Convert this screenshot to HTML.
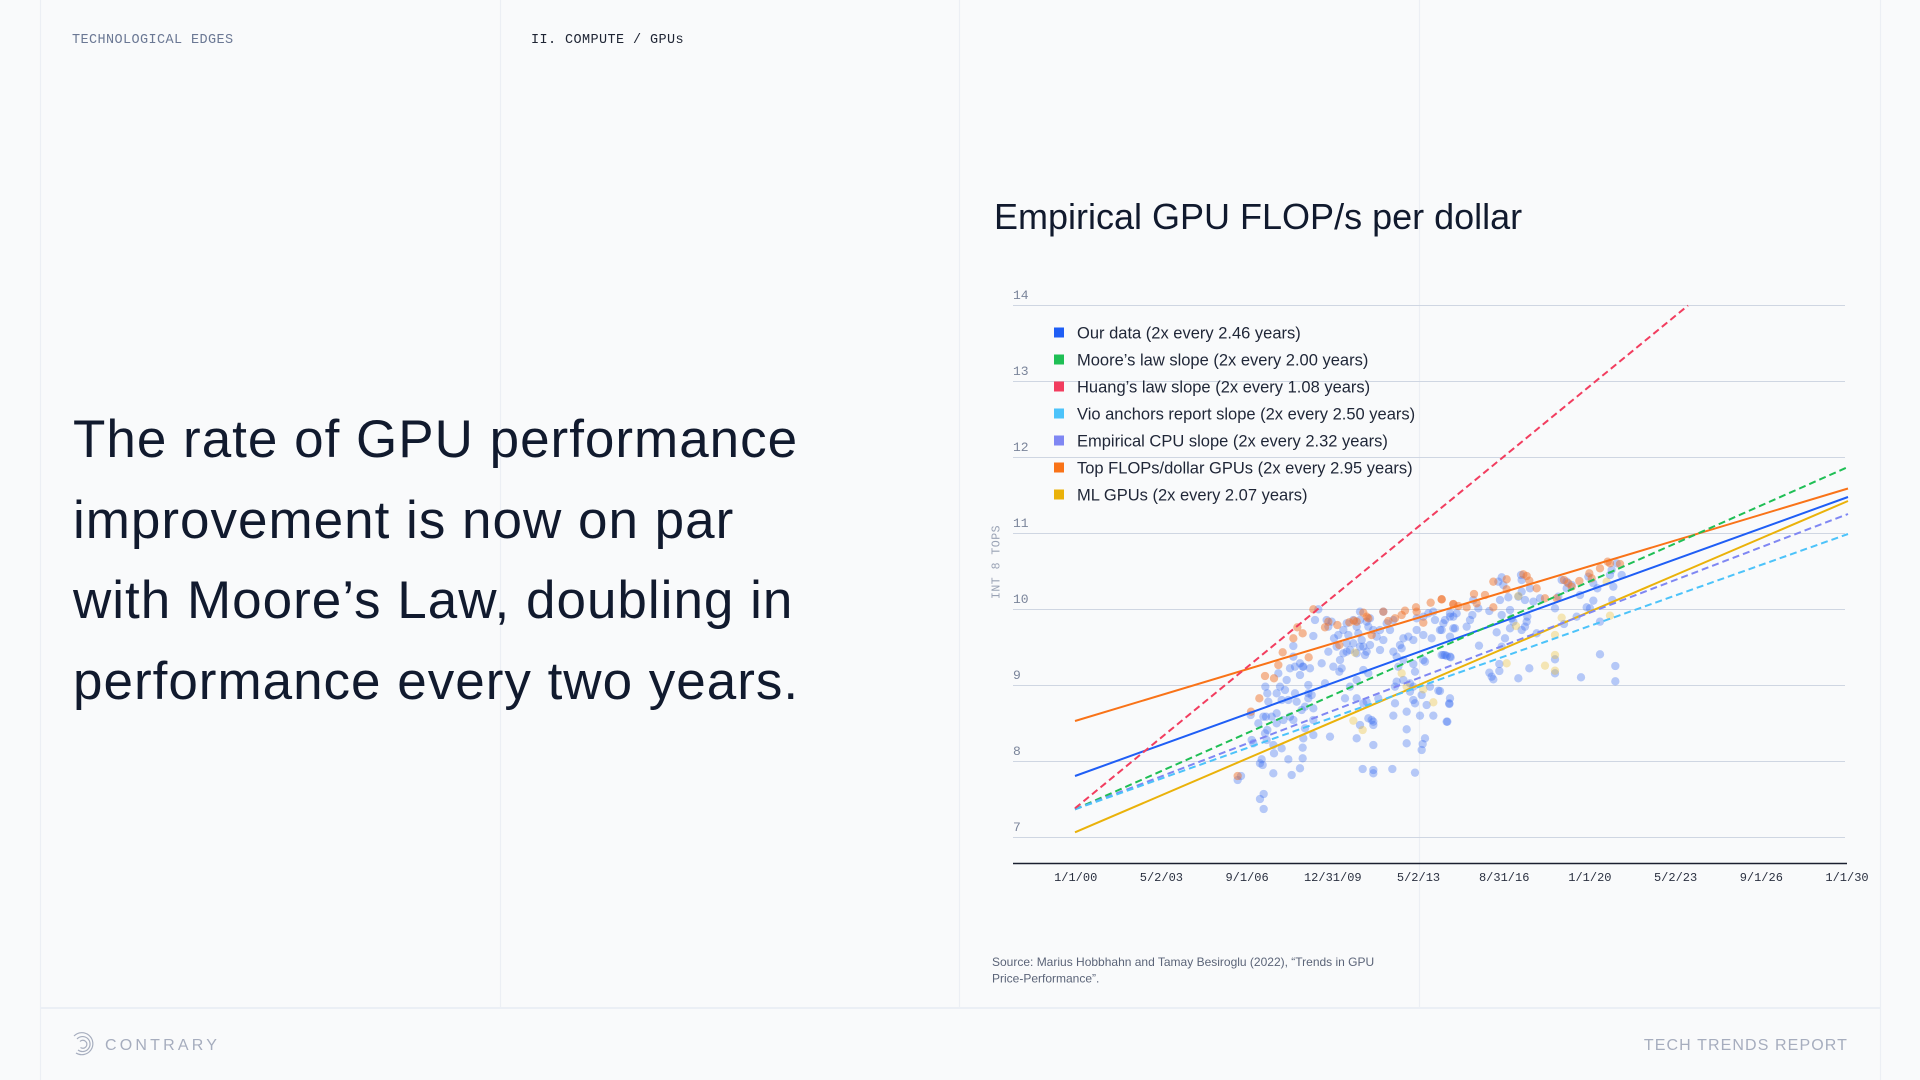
<!DOCTYPE html>
<html>
<head>
<meta charset="utf-8">
<style>
  html, body { margin: 0; padding: 0; }
  body { width: 1920px; height: 1080px; background: #f9fafb; overflow: hidden; position: relative; }
  svg { position: absolute; left: 0; top: 0; }
  .mono { font-family: "Liberation Mono", monospace; }
  .sans { font-family: "Liberation Sans", sans-serif; }
  circle { r: 12.5px; }
</style>
</head>
<body>
<svg width="1920" height="1080" viewBox="0 0 1920 1080" xmlns="http://www.w3.org/2000/svg">
  <!-- structural lines -->
  <g stroke="#eceff4" stroke-width="1.2">
    <line x1="40.5" y1="0" x2="40.5" y2="1080"/>
    <line x1="500.5" y1="0" x2="500.5" y2="1008"/>
    <line x1="959.5" y1="0" x2="959.5" y2="1008"/>
    <line x1="1419.5" y1="0" x2="1419.5" y2="1008"/>
    <line x1="1880.5" y1="0" x2="1880.5" y2="1080"/>
  </g>
  <line x1="40" y1="1008" x2="1881" y2="1008" stroke="#ebeff5" stroke-width="2"/>

  <!-- header labels -->
  <text x="72" y="43" class="mono" font-size="13.5" letter-spacing="0.4" fill="#6b7894">TECHNOLOGICAL EDGES</text>
  <text x="531" y="43" class="mono" font-size="13.5" letter-spacing="0.4" fill="#1e2433">II. COMPUTE / GPUs</text>

  <!-- main statement -->
  <g class="sans" font-size="53" letter-spacing="1" fill="#111a2e">
    <text x="73" y="457">The rate of GPU performance</text>
    <text x="73" y="538">improvement is now on par</text>
    <text x="73" y="618">with Moore’s Law, doubling in</text>
    <text x="73" y="699">performance every two years.</text>
  </g>

  <!-- chart title -->
  <text x="994" y="229" class="sans" font-size="36" fill="#111a2e">Empirical GPU FLOP/s per dollar</text>

  <!-- gridlines -->
  <g stroke="#cfd6e2" stroke-width="1">
    <line x1="1013" y1="305.5" x2="1845" y2="305.5"/>
    <line x1="1013" y1="381.5" x2="1845" y2="381.5"/>
    <line x1="1013" y1="457.5" x2="1845" y2="457.5"/>
    <line x1="1013" y1="533.5" x2="1845" y2="533.5"/>
    <line x1="1013" y1="609.5" x2="1845" y2="609.5"/>
    <line x1="1013" y1="685.5" x2="1845" y2="685.5"/>
    <line x1="1013" y1="761.5" x2="1845" y2="761.5"/>
    <line x1="1013" y1="837.5" x2="1845" y2="837.5"/>
  </g>

  <!-- y ticks -->
  <g class="mono" font-size="13" fill="#7a849a">
    <text x="1013" y="299">14</text>
    <text x="1013" y="375">13</text>
    <text x="1013" y="451">12</text>
    <text x="1013" y="527">11</text>
    <text x="1013" y="603">10</text>
    <text x="1013" y="679">9</text>
    <text x="1013" y="755">8</text>
    <text x="1013" y="831">7</text>
  </g>

  <!-- y axis title -->
  <text transform="translate(999.5 562) rotate(-90)" text-anchor="middle" class="mono" font-size="11.5" letter-spacing="0.5" fill="#9aa3b5">INT 8 TOPS</text>

  <!-- scatter: left region (zoom coords) -->
  <g transform="translate(980 520) scale(0.333333)">
    <g fill="rgba(60,110,240,0.36)">
      <circle cx="773" cy="780" r="12.5"/><circle cx="783" cy="768" r="12.5"/><circle cx="840" cy="837" r="12.5"/><circle cx="851" cy="822" r="12.5"/>
      <circle cx="851" cy="867" r="12.5"/><circle cx="840" cy="730" r="12.5"/><circle cx="848" cy="735" r="12.5"/><circle cx="845" cy="718" r="12.5"/>
      <circle cx="812" cy="585" r="12.5"/><circle cx="815" cy="660" r="12.5"/><circle cx="820" cy="670" r="12.5"/><circle cx="835" cy="610" r="12.5"/>
      <circle cx="850" cy="590" r="12.5"/><circle cx="858" cy="590" r="12.5"/><circle cx="856" cy="500" r="12.5"/><circle cx="862" cy="520" r="12.5"/>
      <circle cx="865" cy="545" r="12.5"/><circle cx="862" cy="630" r="12.5"/><circle cx="880" cy="675" r="12.5"/><circle cx="882" cy="700" r="12.5"/>
      <circle cx="880" cy="760" r="12.5"/><circle cx="905" cy="685" r="12.5"/><circle cx="925" cy="718" r="12.5"/><circle cx="935" cy="765" r="12.5"/>
      <circle cx="960" cy="745" r="12.5"/><circle cx="968" cy="715" r="12.5"/><circle cx="968" cy="683" r="12.5"/><circle cx="970" cy="655" r="12.5"/>
      <circle cx="975" cy="625" r="12.5"/><circle cx="1000" cy="645" r="12.5"/><circle cx="1000" cy="600" r="12.5"/><circle cx="1000" cy="565" r="12.5"/>
      <circle cx="985" cy="535" r="12.5"/><circle cx="995" cy="525" r="12.5"/><circle cx="985" cy="495" r="12.5"/><circle cx="968" cy="440" r="12.5"/>
      <circle cx="960" cy="465" r="12.5"/><circle cx="945" cy="440" r="12.5"/><circle cx="940" cy="410" r="12.5"/><circle cx="940" cy="378" r="12.5"/>
      <circle cx="1000" cy="348" r="12.5"/><circle cx="1005" cy="300" r="12.5"/><circle cx="1015" cy="268" r="12.5"/><circle cx="920" cy="480" r="12.5"/>
      <circle cx="915" cy="510" r="12.5"/><circle cx="900" cy="500" r="12.5"/><circle cx="895" cy="460" r="12.5"/><circle cx="890" cy="520" r="12.5"/>
      <circle cx="905" cy="540" r="12.5"/><circle cx="925" cy="540" r="12.5"/><circle cx="945" cy="520" r="12.5"/><circle cx="950" cy="545" r="12.5"/>
      <circle cx="930" cy="590" r="12.5"/><circle cx="910" cy="600" r="12.5"/><circle cx="890" cy="610" r="12.5"/><circle cx="860" cy="660" r="12.5"/>
      <circle cx="855" cy="640" r="12.5"/><circle cx="875" cy="590" r="12.5"/><circle cx="890" cy="580" r="12.5"/><circle cx="940" cy="600" r="12.5"/>
      <circle cx="965" cy="570" r="12.5"/><circle cx="975" cy="560" r="12.5"/><circle cx="985" cy="520" r="12.5"/><circle cx="960" cy="430" r="12.5"/>
      <circle cx="970" cy="440" r="12.5"/><circle cx="990" cy="445" r="12.5"/><circle cx="1045" cy="395" r="12.5"/><circle cx="1060" cy="440" r="12.5"/>
      <circle cx="1062" cy="355" r="12.5"/><circle cx="1075" cy="345" r="12.5"/><circle cx="1080" cy="420" r="12.5"/><circle cx="1085" cy="445" r="12.5"/>
      <circle cx="1078" cy="455" r="12.5"/><circle cx="1090" cy="400" r="12.5"/><circle cx="1100" cy="370" r="12.5"/><circle cx="1105" cy="345" r="12.5"/>
      <circle cx="1110" cy="390" r="12.5"/><circle cx="1120" cy="370" r="12.5"/><circle cx="1130" cy="400" r="12.5"/><circle cx="1140" cy="380" r="12.5"/>
      <circle cx="1150" cy="380" r="12.5"/><circle cx="1155" cy="405" r="12.5"/><circle cx="1160" cy="395" r="12.5"/><circle cx="1170" cy="375" r="12.5"/>
      <circle cx="1165" cy="460" r="12.5"/><circle cx="1150" cy="450" r="12.5"/><circle cx="1130" cy="480" r="12.5"/><circle cx="1110" cy="500" r="12.5"/>
      <circle cx="1095" cy="535" r="12.5"/><circle cx="1130" cy="535" r="12.5"/><circle cx="1150" cy="550" r="12.5"/><circle cx="1140" cy="615" r="12.5"/>
      <circle cx="1130" cy="655" r="12.5"/><circle cx="1165" cy="595" r="12.5"/><circle cx="1180" cy="605" r="12.5"/><circle cx="1180" cy="615" r="12.5"/>
      <circle cx="1180" cy="675" r="12.5"/><circle cx="1148" cy="747" r="12.5"/><circle cx="1180" cy="750" r="12.5"/><circle cx="1180" cy="760" r="12.5"/>
      <circle cx="1237" cy="747" r="12.5"/><circle cx="1305" cy="758" r="12.5"/><circle cx="1280" cy="670" r="12.5"/><circle cx="1280" cy="628" r="12.5"/>
      <circle cx="1325" cy="690" r="12.5"/><circle cx="1328" cy="672" r="12.5"/><circle cx="1335" cy="655" r="12.5"/><circle cx="1240" cy="587" r="12.5"/>
      <circle cx="1245" cy="550" r="12.5"/><circle cx="1280" cy="575" r="12.5"/><circle cx="1305" cy="550" r="12.5"/><circle cx="1320" cy="587" r="12.5"/>
      <circle cx="1360" cy="587" r="12.5"/><circle cx="1400" cy="605" r="12.5"/><circle cx="1375" cy="512" r="12.5"/><circle cx="1340" cy="555" r="12.5"/>
      <circle cx="1300" cy="540" r="12.5"/><circle cx="1290" cy="515" r="12.5"/><circle cx="1250" cy="485" r="12.5"/><circle cx="1240" cy="395" r="12.5"/>
      <circle cx="1255" cy="440" r="12.5"/><circle cx="1265" cy="385" r="12.5"/><circle cx="1270" cy="355" r="12.5"/><circle cx="1285" cy="350" r="12.5"/>
      <circle cx="1300" cy="360" r="12.5"/><circle cx="1310" cy="330" r="12.5"/><circle cx="1310" cy="295" r="12.5"/><circle cx="1330" cy="345" r="12.5"/>
      <circle cx="1355" cy="355" r="12.5"/><circle cx="1380" cy="330" r="12.5"/><circle cx="1365" cy="300" r="12.5"/><circle cx="1360" cy="275" r="12.5"/>
      <circle cx="1345" cy="280" r="12.5"/><circle cx="1330" cy="290" r="12.5"/><circle cx="1390" cy="310" r="12.5"/><circle cx="1410" cy="290" r="12.5"/>
      <circle cx="1420" cy="325" r="12.5"/><circle cx="1430" cy="280" r="12.5"/><circle cx="1200" cy="330" r="12.5"/><circle cx="1210" cy="360" r="12.5"/>
      <circle cx="1220" cy="310" r="12.5"/><circle cx="1230" cy="330" r="12.5"/><circle cx="1240" cy="300" r="12.5"/><circle cx="1190" cy="350" r="12.5"/>
      <circle cx="1180" cy="330" r="12.5"/><circle cx="1165" cy="320" r="12.5"/><circle cx="1160" cy="305" r="12.5"/><circle cx="1140" cy="300" r="12.5"/>
      <circle cx="1130" cy="320" r="12.5"/><circle cx="1120" cy="300" r="12.5"/><circle cx="1100" cy="310" r="12.5"/><circle cx="1055" cy="305" r="12.5"/>
      <circle cx="1045" cy="320" r="12.5"/><circle cx="1040" cy="300" r="12.5"/><circle cx="1100" cy="395" r="12.5"/><circle cx="1050" cy="650" r="12.5"/>
      <circle cx="1035" cy="490" r="12.5"/><circle cx="1410" cy="535" r="12.5"/><circle cx="1408" cy="550" r="12.5"/><circle cx="1385" cy="405" r="12.5"/>
      <circle cx="1395" cy="405" r="12.5"/><circle cx="1410" cy="410" r="12.5"/><circle cx="1300" cy="432" r="12.5"/><circle cx="1305" cy="455" r="12.5"/>
      <circle cx="1330" cy="420" r="12.5"/><circle cx="1335" cy="425" r="12.5"/><circle cx="1250" cy="410" r="12.5"/><circle cx="1260" cy="375" r="12.5"/>
      <circle cx="1210" cy="275" r="12.5"/><circle cx="1140" cy="275" r="12.5"/><circle cx="1170" cy="295" r="12.5"/><circle cx="1135" cy="340" r="12.5"/>
      <circle cx="1145" cy="360" r="12.5"/><circle cx="1350" cy="500" r="12.5"/><circle cx="1325" cy="525" r="12.5"/><circle cx="1300" cy="500" r="12.5"/>
      <circle cx="1290" cy="490" r="12.5"/><circle cx="1270" cy="480" r="12.5"/><circle cx="1245" cy="500" r="12.5"/><circle cx="1195" cy="535" r="12.5"/>
      <circle cx="1175" cy="600" r="12.5"/><circle cx="1160" cy="545" r="12.5"/><circle cx="1070" cy="380" r="12.5"/><circle cx="1090" cy="330" r="12.5"/>
      <circle cx="1200" cy="390" r="12.5"/><circle cx="1270" cy="420" r="12.5"/><circle cx="930" cy="445" r="12.5"/><circle cx="1025" cy="430" r="12.5"/>
    </g>
    <g fill="rgba(240,115,45,0.5)">
      <circle cx="773" cy="768" r="12.5"/><circle cx="813" cy="575" r="12.5"/><circle cx="838" cy="535" r="12.5"/><circle cx="855" cy="468" r="12.5"/>
      <circle cx="882" cy="475" r="12.5"/><circle cx="895" cy="435" r="12.5"/><circle cx="908" cy="397" r="12.5"/><circle cx="986" cy="412" r="12.5"/>
      <circle cx="940" cy="355" r="12.5"/><circle cx="968" cy="340" r="12.5"/><circle cx="952" cy="322" r="12.5"/><circle cx="1000" cy="268" r="12.5"/>
      <circle cx="1035" cy="322" r="12.5"/><circle cx="1045" cy="305" r="12.5"/><circle cx="1072" cy="315" r="12.5"/><circle cx="1078" cy="375" r="12.5"/>
      <circle cx="1108" cy="307" r="12.5"/><circle cx="1122" cy="302" r="12.5"/><circle cx="1130" cy="305" r="12.5"/><circle cx="1150" cy="278" r="12.5"/>
      <circle cx="1160" cy="290" r="12.5"/><circle cx="1165" cy="295" r="12.5"/><circle cx="1175" cy="345" r="12.5"/><circle cx="1210" cy="275" r="12.5"/>
      <circle cx="1225" cy="303" r="12.5"/><circle cx="1245" cy="295" r="12.5"/><circle cx="1265" cy="285" r="12.5"/><circle cx="1275" cy="272" r="12.5"/>
      <circle cx="1308" cy="262" r="12.5"/><circle cx="1310" cy="275" r="12.5"/><circle cx="1330" cy="308" r="12.5"/><circle cx="1352" cy="248" r="12.5"/>
      <circle cx="1385" cy="238" r="12.5"/><circle cx="1420" cy="253" r="12.5"/><circle cx="1435" cy="258" r="12.5"/>
    </g>
    <g fill="rgba(235,190,50,0.35)">
      <circle cx="1125" cy="398" r="12.5"/><circle cx="1120" cy="602" r="12.5"/><circle cx="1148" cy="630" r="12.5"/><circle cx="1280" cy="500" r="12.5"/>
      <circle cx="1330" cy="508" r="12.5"/><circle cx="1360" cy="547" r="12.5"/><circle cx="1265" cy="460" r="12.5"/>
    </g>
  </g>

  <!-- scatter: right region -->
  <g transform="translate(1440 520) scale(0.333333)">
    <g fill="rgba(60,110,240,0.36)">
      <circle cx="0" cy="513" r="12.5"/><circle cx="28" cy="552" r="12.5"/><circle cx="22" cy="605" r="12.5"/><circle cx="10" cy="405" r="12.5"/>
      <circle cx="20" cy="408" r="12.5"/><circle cx="32" cy="412" r="12.5"/><circle cx="30" cy="350" r="12.5"/><circle cx="45" cy="325" r="12.5"/>
      <circle cx="40" cy="290" r="12.5"/><circle cx="15" cy="300" r="12.5"/><circle cx="30" cy="280" r="12.5"/><circle cx="5" cy="330" r="12.5"/>
      <circle cx="80" cy="320" r="12.5"/><circle cx="90" cy="300" r="12.5"/><circle cx="97" cy="285" r="12.5"/><circle cx="100" cy="240" r="12.5"/>
      <circle cx="115" cy="265" r="12.5"/><circle cx="117" cy="377" r="12.5"/><circle cx="148" cy="273" r="12.5"/><circle cx="148" cy="458" r="12.5"/>
      <circle cx="155" cy="470" r="12.5"/><circle cx="160" cy="478" r="12.5"/><circle cx="178" cy="453" r="12.5"/><circle cx="178" cy="432" r="12.5"/>
      <circle cx="170" cy="337" r="12.5"/><circle cx="185" cy="380" r="12.5"/><circle cx="195" cy="355" r="12.5"/><circle cx="185" cy="285" r="12.5"/>
      <circle cx="180" cy="240" r="12.5"/><circle cx="175" cy="185" r="12.5"/><circle cx="185" cy="172" r="12.5"/><circle cx="190" cy="195" r="12.5"/>
      <circle cx="205" cy="232" r="12.5"/><circle cx="210" cy="270" r="12.5"/><circle cx="215" cy="295" r="12.5"/><circle cx="210" cy="325" r="12.5"/>
      <circle cx="220" cy="305" r="12.5"/><circle cx="235" cy="230" r="12.5"/><circle cx="245" cy="215" r="12.5"/><circle cx="243" cy="165" r="12.5"/>
      <circle cx="245" cy="180" r="12.5"/><circle cx="255" cy="240" r="12.5"/><circle cx="262" cy="290" r="12.5"/><circle cx="260" cy="305" r="12.5"/>
      <circle cx="255" cy="320" r="12.5"/><circle cx="245" cy="330" r="12.5"/><circle cx="235" cy="475" r="12.5"/><circle cx="268" cy="445" r="12.5"/>
      <circle cx="270" cy="205" r="12.5"/><circle cx="280" cy="245" r="12.5"/><circle cx="290" cy="340" r="12.5"/><circle cx="300" cy="235" r="12.5"/>
      <circle cx="345" cy="265" r="12.5"/><circle cx="345" cy="418" r="12.5"/><circle cx="345" cy="460" r="12.5"/><circle cx="355" cy="230" r="12.5"/>
      <circle cx="365" cy="180" r="12.5"/><circle cx="372" cy="312" r="12.5"/><circle cx="380" cy="205" r="12.5"/><circle cx="380" cy="185" r="12.5"/>
      <circle cx="395" cy="195" r="12.5"/><circle cx="410" cy="290" r="12.5"/><circle cx="420" cy="225" r="12.5"/><circle cx="423" cy="472" r="12.5"/>
      <circle cx="440" cy="262" r="12.5"/><circle cx="445" cy="170" r="12.5"/><circle cx="460" cy="190" r="12.5"/><circle cx="460" cy="242" r="12.5"/>
      <circle cx="472" cy="205" r="12.5"/><circle cx="480" cy="305" r="12.5"/><circle cx="480" cy="403" r="12.5"/><circle cx="510" cy="165" r="12.5"/>
      <circle cx="515" cy="150" r="12.5"/><circle cx="517" cy="240" r="12.5"/><circle cx="520" cy="200" r="12.5"/><circle cx="526" cy="438" r="12.5"/>
      <circle cx="526" cy="484" r="12.5"/><circle cx="545" cy="165" r="12.5"/><circle cx="530" cy="130" r="12.5"/><circle cx="450" cy="265" r="12.5"/>
    </g>
    <g fill="rgba(240,115,45,0.5)">
      <circle cx="5" cy="238" r="12.5"/><circle cx="40" cy="252" r="12.5"/><circle cx="80" cy="262" r="12.5"/><circle cx="102" cy="222" r="12.5"/>
      <circle cx="110" cy="250" r="12.5"/><circle cx="135" cy="225" r="12.5"/><circle cx="160" cy="185" r="12.5"/><circle cx="160" cy="262" r="12.5"/>
      <circle cx="200" cy="178" r="12.5"/><circle cx="200" cy="208" r="12.5"/><circle cx="250" cy="163" r="12.5"/><circle cx="260" cy="168" r="12.5"/>
      <circle cx="268" cy="182" r="12.5"/><circle cx="290" cy="205" r="12.5"/><circle cx="315" cy="235" r="12.5"/><circle cx="350" cy="235" r="12.5"/>
      <circle cx="372" cy="180" r="12.5"/><circle cx="385" cy="190" r="12.5"/><circle cx="395" cy="200" r="12.5"/><circle cx="418" cy="183" r="12.5"/>
      <circle cx="448" cy="160" r="12.5"/><circle cx="455" cy="175" r="12.5"/><circle cx="480" cy="145" r="12.5"/><circle cx="503" cy="125" r="12.5"/>
      <circle cx="510" cy="130" r="12.5"/><circle cx="540" cy="132" r="12.5"/>
    </g>
    <g fill="rgba(235,190,50,0.35)">
      <circle cx="200" cy="430" r="12.5"/><circle cx="228" cy="318" r="12.5"/><circle cx="235" cy="228" r="12.5"/><circle cx="315" cy="437" r="12.5"/>
      <circle cx="345" cy="345" r="12.5"/><circle cx="345" cy="405" r="12.5"/><circle cx="345" cy="452" r="12.5"/><circle cx="365" cy="293" r="12.5"/>
      <circle cx="510" cy="287" r="12.5"/><circle cx="500" cy="185" r="12.5"/>
    </g>
  </g>

  <!-- trend lines -->
  <g fill="none" stroke-width="2" stroke-linecap="butt">
    <line x1="1075" y1="721" x2="1848" y2="488.5" stroke="#f97318"/>
    <line x1="1075" y1="776" x2="1848" y2="497" stroke="#1f5ef5"/>
    <line x1="1075" y1="832.3" x2="1848" y2="501" stroke="#eab20a"/>
    <line x1="1075" y1="809.3" x2="1848" y2="467" stroke="#1fbf55" stroke-dasharray="7 4"/>
    <line x1="1075" y1="809.3" x2="1848" y2="514" stroke="#7f87f3" stroke-dasharray="7 4"/>
    <line x1="1075" y1="809.3" x2="1848" y2="534" stroke="#4cc3fa" stroke-dasharray="7 4"/>
    <line x1="1075" y1="808.3" x2="1688" y2="305.5" stroke="#f23d5f" stroke-dasharray="7 4"/>
  </g>

  <!-- x axis -->
  <line x1="1013" y1="863.5" x2="1847" y2="863.5" stroke="#1b2030" stroke-width="1.6"/>
  <g class="mono" font-size="12" fill="#2a3040" text-anchor="middle">
    <text x="1075.7" y="881">1/1/00</text>
    <text x="1161.4" y="881">5/2/03</text>
    <text x="1247.1" y="881">9/1/06</text>
    <text x="1332.8" y="881">12/31/09</text>
    <text x="1418.5" y="881">5/2/13</text>
    <text x="1504.2" y="881">8/31/16</text>
    <text x="1589.9" y="881">1/1/20</text>
    <text x="1675.6" y="881">5/2/23</text>
    <text x="1761.3" y="881">9/1/26</text>
    <text x="1847" y="881">1/1/30</text>
  </g>

  <!-- legend -->
  <g>
    <rect x="1054" y="327.5" width="10" height="10" fill="#1f5ef5"/>
    <rect x="1054" y="354.5" width="10" height="10" fill="#1fbf55"/>
    <rect x="1054" y="381.5" width="10" height="10" fill="#f23d5f"/>
    <rect x="1054" y="408.5" width="10" height="10" fill="#4cc3fa"/>
    <rect x="1054" y="435.5" width="10" height="10" fill="#7f87f3"/>
    <rect x="1054" y="462.5" width="10" height="10" fill="#f97318"/>
    <rect x="1054" y="489.5" width="10" height="10" fill="#eab20a"/>
  </g>
  <g class="sans" font-size="16.5" fill="#1f2637">
    <text x="1077" y="338.5">Our data (2x every 2.46 years)</text>
    <text x="1077" y="365.5">Moore’s law slope (2x every 2.00 years)</text>
    <text x="1077" y="392.5">Huang’s law slope (2x every 1.08 years)</text>
    <text x="1077" y="419.5">Vio anchors report slope (2x every 2.50 years)</text>
    <text x="1077" y="446.5">Empirical CPU slope (2x every 2.32 years)</text>
    <text x="1077" y="473.5">Top FLOPs/dollar GPUs (2x every 2.95 years)</text>
    <text x="1077" y="500.5">ML GPUs (2x every 2.07 years)</text>
  </g>

  <!-- source -->
  <g class="sans" font-size="12" fill="#5b6478">
    <text x="992" y="966">Source: Marius Hobbhahn and Tamay Besiroglu (2022), “Trends in GPU</text>
    <text x="992" y="982.5">Price-Performance”.</text>
  </g>

  <!-- footer -->
  <g fill="none" stroke="#a6adbe" stroke-width="1.2">
    <path d="M74 1036 A11 11 0 1 1 76 1053"/>
    <path d="M77 1039 A7.5 7.5 0 1 1 78 1050"/>
    <path d="M80 1041.5 A4 4 0 1 1 80.5 1047.5"/>
  </g>
  <text x="105" y="1050" class="sans" font-size="16" letter-spacing="3.2" fill="#a6adbe">CONTRARY</text>
  <text x="1848" y="1050" class="sans" font-size="16" letter-spacing="1.1" fill="#a6adbe" text-anchor="end">TECH TRENDS REPORT</text>
</svg>
</body>
</html>
